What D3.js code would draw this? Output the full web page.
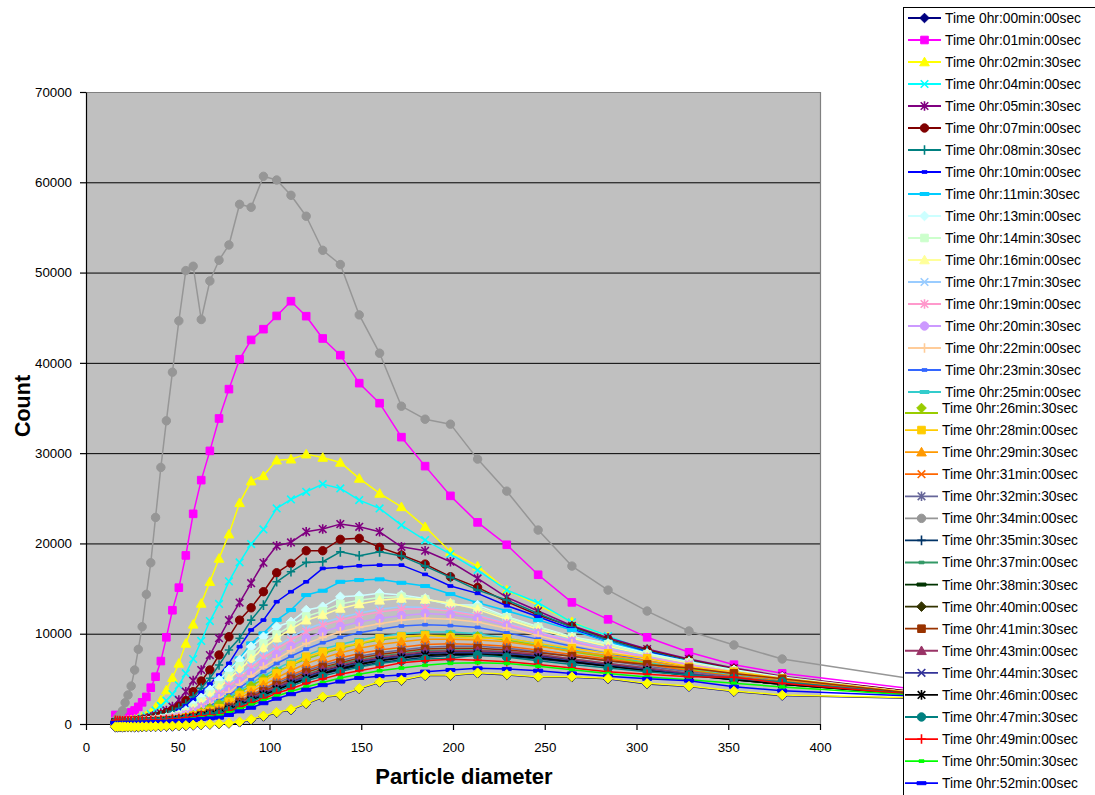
<!DOCTYPE html>
<html>
<head>
<meta charset="utf-8">
<script src="https://cdn.jsdelivr.net/npm/d3@7"></script>
<style>
  body { margin: 0; background: #fff; }
  text { font-family: "Liberation Sans", Arial, sans-serif; }
</style>
</head>
<body>
<svg id="chart" width="1095" height="795"></svg>
<script>
// particle diameters (last one sits past the axis end, behind the legend)
const diameters = [16.0, 17.2, 18.5, 19.9, 21.3, 22.9, 24.6, 26.5, 28.5, 30.6, 32.9, 35.3, 37.9, 40.8, 43.8, 47.1, 50.6, 54.4, 58.4, 62.8, 67.5, 72.5, 77.9, 83.7, 90.0, 96.7, 103.9, 111.7, 120.0, 129.0, 138.6, 148.9, 160.0, 171.9, 184.8, 198.6, 213.4, 229.3, 246.4, 264.8, 284.5, 305.8, 328.6, 353.1, 379.4, 450]

// legend labels (the legend is cut by the picture after 52min)
const times = ["00min:00sec", "01min:00sec", "02min:30sec", "04min:00sec", "05min:30sec", "07min:00sec", "08min:30sec", "10min:00sec", "11min:30sec", "13min:00sec", "14min:30sec", "16min:00sec", "17min:30sec", "19min:00sec", "20min:30sec", "22min:00sec", "23min:30sec", "25min:00sec", "26min:30sec", "28min:00sec", "29min:30sec", "31min:00sec", "32min:30sec", "34min:00sec", "35min:30sec", "37min:00sec", "38min:30sec", "40min:00sec", "41min:30sec", "43min:00sec", "44min:30sec", "46min:00sec", "47min:30sec", "49min:00sec", "50min:30sec", "52min:00sec"]

const t0000 = [-360, -360, -360, -360, -360, -360, -360, -360, -360, -350, -340, -330, -320, -310, -290, -270, -240, -210, -160, -110, -60, -10, 60, 190, 460, 840, 1240, 1570, 2230, 2960, 3150, 3890, 4620, 4810, 5360, 5360, 5620, 5440, 5180, 5180, 5000, 4440, 4140, 3590, 3150, 2840]
const t0100 = [1000, 950, 950, 1000, 1050, 1150, 1300, 1500, 1900, 2400, 3000, 4020, 5240, 6970, 9600, 12600, 15100, 18670, 23280, 27010, 30250, 33840, 37090, 40400, 42540, 43730, 45200, 46830, 45170, 42700, 40850, 37750, 35530, 31770, 28560, 25270, 22330, 19850, 16530, 13470, 11590, 9600, 7940, 6570, 5610, 3900]
const t0230 = [300, 300, 320, 340, 370, 400, 450, 520, 620, 760, 950, 1250, 1850, 2660, 3760, 5130, 6720, 8930, 11040, 13360, 15760, 18340, 21030, 24500, 26900, 27490, 29220, 29330, 29890, 29520, 28970, 27200, 25540, 24050, 21840, 19070, 17490, 14830, 13170, 11320, 9660, 7830, 6800, 5800, 4900, 3400]
const t0400 = [250, 250, 260, 280, 300, 330, 370, 430, 520, 650, 850, 1100, 1500, 2000, 2600, 3300, 4300, 5600, 7200, 9200, 11400, 13300, 15800, 17900, 19930, 21550, 23880, 24870, 25720, 26570, 26090, 24800, 23880, 22030, 20370, 18820, 17050, 14830, 13430, 11260, 9740, 8110, 7000, 6000, 5200, 3500]
const t0530 = [250, 250, 260, 270, 290, 310, 340, 380, 440, 520, 620, 760, 950, 1200, 1500, 1920, 2660, 3580, 4800, 5980, 7640, 9500, 11500, 13450, 15600, 17860, 19740, 20110, 21290, 21590, 22140, 21840, 21290, 19630, 19190, 17970, 16130, 14030, 12510, 10880, 9550, 8300, 7200, 6200, 5300, 3600]
const t0700 = [250, 250, 260, 270, 280, 300, 320, 350, 400, 460, 540, 650, 800, 1000, 1250, 1550, 1950, 2600, 3580, 4760, 5980, 7640, 9660, 11510, 12870, 14650, 16750, 17790, 19190, 19190, 20450, 20560, 19560, 18710, 17710, 16310, 15130, 13540, 12070, 10800, 9400, 8200, 7100, 6100, 5200, 3600]
const t0830 = [250, 250, 260, 270, 280, 290, 310, 340, 380, 430, 500, 600, 730, 900, 1100, 1400, 1750, 2200, 3000, 3950, 5060, 6530, 8190, 9490, 11510, 13170, 15750, 16860, 17900, 17970, 19070, 18630, 19070, 18600, 17490, 16240, 14830, 13730, 12250, 10700, 9300, 8100, 7000, 6000, 5100, 3500]
const t1000 = [250, 250, 255, 260, 270, 280, 300, 320, 350, 390, 440, 510, 600, 720, 880, 1080, 1500, 2000, 2700, 3500, 4430, 5420, 6720, 8560, 10410, 11510, 13540, 14650, 15750, 17230, 17350, 17520, 17600, 17600, 16570, 15280, 14470, 13100, 11880, 10520, 9110, 8000, 6900, 5900, 5000, 3500]
const t1130 = [250, 250, 255, 260, 265, 275, 290, 310, 340, 370, 410, 460, 530, 620, 740, 890, 1100, 1400, 1800, 2700, 3800, 4950, 5980, 7270, 8930, 10040, 11510, 12620, 14280, 14760, 15750, 15940, 16020, 15640, 15280, 14390, 13430, 12540, 11510, 10400, 9100, 7900, 6900, 5900, 5000, 3500]
const t1300 = [250, 250, 250, 255, 260, 270, 280, 300, 320, 350, 390, 440, 510, 600, 720, 870, 1060, 1500, 2100, 2900, 3800, 4870, 5980, 7090, 8560, 9660, 10770, 11320, 12620, 12990, 14090, 14200, 14470, 14280, 13910, 13170, 13170, 11880, 10770, 9660, 8930, 7830, 6900, 6000, 5200, 3500]
const t1430 = [240, 240, 245, 250, 255, 260, 270, 285, 300, 330, 360, 400, 460, 540, 640, 770, 940, 1300, 1800, 2500, 3300, 4300, 5300, 6400, 7700, 8900, 9900, 10900, 11900, 12500, 13300, 13700, 14000, 14100, 13800, 13300, 12900, 11800, 10700, 9600, 8800, 7700, 6800, 5900, 5100, 3500]
const t1600 = [240, 240, 245, 250, 255, 260, 270, 280, 295, 320, 350, 390, 450, 520, 620, 740, 900, 1200, 1650, 2300, 3100, 4000, 5000, 6000, 7200, 8400, 9500, 10500, 11500, 12070, 12800, 13300, 13700, 13900, 13800, 13400, 12700, 11600, 10500, 9500, 8600, 7600, 6700, 5800, 5000, 3500]
const t1730 = [230, 230, 235, 240, 245, 250, 260, 270, 285, 310, 340, 380, 430, 500, 590, 700, 850, 1100, 1500, 2000, 2700, 3500, 4400, 5400, 6500, 7600, 8600, 9600, 10500, 11200, 11800, 12300, 12700, 13000, 12900, 12600, 12100, 11200, 10200, 9300, 8400, 7500, 6600, 5800, 5000, 3500]
const t1900 = [230, 230, 235, 240, 245, 250, 255, 265, 280, 300, 330, 370, 420, 480, 560, 670, 810, 1050, 1400, 1900, 2500, 3300, 4200, 5100, 6200, 7300, 8300, 9300, 10200, 10900, 11500, 12000, 12400, 12700, 12800, 12500, 12000, 11100, 10100, 9200, 8300, 7400, 6600, 5800, 5000, 3500]
const t2030 = [220, 220, 225, 230, 235, 240, 250, 260, 275, 295, 320, 355, 400, 460, 540, 640, 770, 1000, 1300, 1750, 2300, 3000, 3800, 4700, 5700, 6700, 7700, 8600, 9500, 10200, 10800, 11300, 11700, 12000, 12250, 12100, 11700, 10900, 10000, 9100, 8200, 7300, 6500, 5700, 4900, 3400]
const t2200 = [220, 220, 225, 230, 235, 240, 245, 255, 270, 290, 310, 340, 380, 430, 500, 590, 710, 920, 1200, 1600, 2150, 2800, 3500, 4400, 5300, 6300, 7200, 8100, 8900, 9600, 10200, 10700, 11100, 11500, 11700, 11600, 11300, 10600, 9800, 8900, 8100, 7200, 6400, 5600, 4900, 3400]
const t2330 = [210, 210, 215, 220, 225, 230, 235, 245, 255, 270, 290, 320, 355, 400, 460, 540, 650, 840, 1100, 1450, 2000, 2600, 3200, 4000, 4900, 5800, 6700, 7500, 8300, 9000, 9600, 10100, 10500, 10850, 11000, 10900, 10700, 10100, 9400, 8600, 7800, 7000, 6200, 5500, 4800, 3400]
const t2500 = [210, 210, 210, 215, 220, 225, 230, 240, 250, 265, 280, 305, 340, 380, 440, 510, 610, 790, 1020, 1350, 1850, 2400, 3000, 3700, 4500, 5300, 6100, 6900, 7600, 8300, 8800, 9300, 9700, 10000, 10200, 10200, 10000, 9500, 8900, 8200, 7500, 6800, 6100, 5400, 4700, 3400]
const t2630 = [200, 200, 205, 210, 215, 220, 225, 235, 245, 260, 275, 300, 330, 370, 420, 490, 580, 750, 970, 1300, 1750, 2200, 2800, 3500, 4200, 5000, 5800, 6500, 7200, 7800, 8400, 8900, 9300, 9600, 9800, 9800, 9700, 9300, 8700, 8000, 7400, 6700, 6000, 5300, 4700, 3400]
const t2800 = [200, 200, 205, 210, 215, 220, 225, 230, 240, 255, 270, 290, 320, 360, 410, 480, 570, 720, 920, 1200, 1450, 1740, 2470, 3210, 3760, 4680, 5610, 6530, 7450, 8000, 8560, 8900, 9490, 9700, 9850, 9600, 9490, 9490, 8930, 8380, 7830, 7270, 6340, 5790, 5060, 3500]
const t2930 = [190, 190, 195, 200, 205, 210, 215, 220, 230, 245, 260, 280, 305, 340, 390, 450, 530, 670, 850, 1100, 1350, 1600, 2200, 2900, 3500, 4300, 5100, 5900, 6700, 7300, 7900, 8400, 8800, 9100, 9400, 9400, 9300, 9100, 8600, 8100, 7600, 7000, 6200, 5600, 4900, 3400]
const t3100 = [190, 190, 190, 195, 200, 205, 210, 215, 225, 235, 250, 270, 295, 330, 375, 430, 510, 640, 810, 1030, 1250, 1500, 2000, 2600, 3200, 3900, 4700, 5400, 6100, 6700, 7300, 7800, 8200, 8500, 8800, 8900, 8800, 8600, 8200, 7700, 7200, 6600, 5900, 5300, 4700, 3400]
const t3230 = [180, 180, 185, 190, 195, 200, 205, 210, 220, 230, 245, 265, 290, 320, 360, 415, 490, 610, 770, 980, 1200, 1400, 1900, 2500, 3100, 3800, 4500, 5200, 5900, 6500, 7000, 7500, 7900, 8200, 8500, 8600, 8600, 8400, 8000, 7500, 7000, 6400, 5800, 5200, 4600, 3400]
const t3400 = [400, 700, 1000, 1470, 2360, 3210, 4200, 5980, 8270, 10770, 14360, 17860, 22880, 28420, 33580, 38970, 44650, 50220, 50700, 44800, 49070, 51370, 53060, 57560, 57230, 60660, 60250, 58560, 56240, 52470, 50890, 45310, 41070, 35200, 33760, 33210, 29340, 25790, 21480, 17490, 14830, 12510, 10300, 8750, 7200, 5000]
const t3530 = [170, 170, 175, 180, 185, 190, 195, 200, 210, 220, 230, 250, 270, 300, 340, 390, 460, 560, 700, 880, 1050, 1200, 1600, 2100, 2600, 3200, 3800, 4400, 5000, 5500, 6000, 6400, 6800, 7100, 7400, 7600, 7600, 7500, 7200, 6800, 6400, 5900, 5400, 4900, 4400, 3300]
const t3700 = [180, 180, 185, 190, 195, 200, 205, 210, 220, 230, 240, 260, 285, 315, 355, 410, 480, 590, 740, 940, 1130, 1300, 1800, 2300, 2900, 3500, 4200, 4900, 5500, 6100, 6700, 7100, 7500, 7800, 8100, 8200, 8200, 8000, 7700, 7200, 6700, 6200, 5600, 5000, 4500, 3300]
const t3830 = [170, 170, 175, 180, 185, 190, 195, 200, 210, 220, 230, 250, 275, 300, 340, 390, 460, 570, 710, 900, 1080, 1200, 1700, 2200, 2700, 3300, 3900, 4500, 5100, 5700, 6200, 6700, 7100, 7400, 7700, 7800, 7800, 7700, 7400, 7000, 6500, 6000, 5500, 4900, 4400, 3300]
const t4000 = [175, 175, 180, 185, 190, 195, 200, 205, 215, 225, 235, 255, 280, 305, 345, 400, 470, 580, 720, 910, 1100, 1250, 1750, 2250, 2800, 3400, 4000, 4700, 5300, 5900, 6400, 6900, 7300, 7600, 7900, 8000, 8000, 7900, 7600, 7100, 6600, 6100, 5500, 5000, 4500, 3300]
const t4130 = [180, 180, 185, 190, 195, 200, 205, 210, 220, 230, 245, 265, 290, 320, 360, 420, 490, 600, 760, 960, 1150, 1300, 1800, 2400, 3000, 3600, 4300, 5000, 5700, 6300, 6800, 7300, 7700, 8000, 8300, 8400, 8380, 8200, 7900, 7500, 7000, 6600, 6200, 5600, 5000, 3400]
const t4300 = [175, 175, 180, 185, 190, 195, 200, 205, 215, 225, 235, 255, 280, 305, 345, 400, 470, 580, 720, 910, 1100, 1250, 1750, 2300, 2900, 3500, 4100, 4800, 5400, 6000, 6500, 7000, 7400, 7700, 8000, 8100, 8100, 8000, 7700, 7200, 6700, 6200, 5600, 5100, 4600, 3300]
const t4430 = [170, 170, 175, 180, 185, 190, 195, 200, 210, 220, 230, 250, 275, 300, 340, 390, 460, 570, 700, 890, 1070, 1200, 1700, 2200, 2700, 3300, 3900, 4600, 5200, 5800, 6300, 6800, 7200, 7500, 7800, 7900, 7900, 7800, 7500, 7000, 6500, 6000, 5500, 5000, 4500, 3300]
const t4600 = [165, 165, 170, 175, 180, 185, 190, 195, 205, 215, 225, 245, 265, 295, 330, 380, 450, 550, 680, 860, 1030, 1150, 1600, 2100, 2600, 3200, 3800, 4400, 5000, 5600, 6100, 6600, 7000, 7300, 7600, 7700, 7700, 7600, 7300, 6900, 6400, 5900, 5400, 4900, 4400, 3300]
const t4730 = [160, 160, 165, 170, 175, 180, 185, 190, 200, 210, 220, 235, 255, 285, 320, 370, 430, 530, 650, 820, 980, 1100, 1500, 2000, 2500, 3000, 3600, 4200, 4800, 5300, 5800, 6300, 6700, 7000, 7200, 7270, 7640, 7400, 7000, 6600, 6200, 5800, 5420, 5060, 4680, 3300]
const t4900 = [400, 380, 370, 360, 350, 350, 350, 355, 360, 370, 385, 400, 420, 450, 490, 540, 610, 700, 800, 900, 950, 1000, 1400, 1850, 2300, 2800, 3400, 3900, 4500, 5000, 5500, 5900, 6300, 6790, 7000, 7160, 7050, 6900, 6600, 6200, 5800, 5500, 5240, 5170, 4500, 3300]
const t5030 = [150, 150, 150, 155, 160, 165, 170, 175, 180, 190, 200, 215, 235, 260, 290, 330, 390, 470, 570, 700, 800, 900, 1250, 1650, 2100, 2600, 3100, 3600, 4100, 4600, 5100, 5500, 5900, 6200, 6500, 6720, 6790, 6700, 6400, 6000, 5600, 5200, 4900, 4500, 4100, 3200]
const t5200 = [120, 120, 120, 125, 130, 135, 140, 145, 150, 160, 170, 185, 200, 225, 255, 290, 340, 400, 480, 560, 620, 700, 1000, 1400, 1800, 2300, 2800, 3300, 3800, 4300, 4700, 5100, 5300, 5420, 5800, 5980, 6170, 6100, 5900, 5600, 5300, 5000, 4800, 4130, 3690, 3100]
const t5330 = [-300, -300, -300, -300, -300, -300, -300, -300, -300, -290, -280, -270, -260, -250, -230, -210, -180, -150, -100, -50, 0, 50, 120, 250, 520, 900, 1300, 1630, 2290, 3020, 3210, 3950, 4680, 4870, 5420, 5420, 5680, 5500, 5240, 5240, 5060, 4500, 4200, 3650, 3210, 2900]

const seriesValues = [t0000, t0100, t0230, t0400, t0530, t0700, t0830, t1000, t1130, t1300, t1430, t1600, t1730, t1900, t2030, t2200, t2330, t2500, t2630, t2800, t2930, t3100, t3230, t3400, t3530, t3700, t3830, t4000, t4130, t4300, t4430, t4600, t4730, t4900, t5030, t5200, t5330]

const xTicks = [0, 50, 100, 150, 200, 250, 300, 350, 400]
const yTicks = [0, 10000, 20000, 30000, 40000, 50000, 60000, 70000]

// excel 2003 default series colours / marker cycle
const colors = ["#000080", "#FF00FF", "#FFFF00", "#00FFFF", "#800080", "#800000", "#008080", "#0000FF", "#00CCFF", "#CCFFFF", "#CCFFCC", "#FFFF99", "#99CCFF", "#FF99CC", "#CC99FF", "#FFCC99", "#3366FF", "#33CCCC", "#99CC00", "#FFCC00", "#FF9900", "#FF6600", "#666699", "#969696", "#003366", "#339966", "#003300", "#333300", "#993300", "#993366", "#333399", "#000000", "#008080", "#FF0000", "#00FF00", "#0000FF", "#FFFF00"]
const markerCycle = ["diamond", "square", "triangle", "x", "star", "circle", "plus", "shortdash", "longdash"]

const markerPaths = {
    diamond: "M0,-4.8L4.8,0L0,4.8L-4.8,0Z",
    square: "M-3.8,-3.8H3.8V3.8H-3.8Z",
    triangle: "M0,-4.8L4.8,3.8H-4.8Z",
    x: "M-3.8,-3.8L3.8,3.8M3.8,-3.8L-3.8,3.8",
    star: "M-3.8,-3.8L3.8,3.8M3.8,-3.8L-3.8,3.8M0,-4.8V4.8",
    circle: "M-4.2,0A4.2,4.2 0 1,0 4.2,0A4.2,4.2 0 1,0 -4.2,0Z",
    plus: "M-4.2,0H4.2M0,-4.8V4.8",
    shortdash: "M-2.5,-1.3H2.5V1.3H-2.5Z",
    longdash: "M-4.5,-1.5H4.5V1.5H-4.5Z"
}
const stroked = { x: true, star: true, plus: true }

var margin = { left: 86, right: 820, top: 92, bottom: 724 }
var svg = d3.select("#chart")
var xScale = d3.scaleLinear().domain([0, 400]).range([margin.left, margin.right])
var yScale = d3.scaleLinear().domain([0, 70000]).range([margin.bottom, margin.top])

// plot area
svg.append("rect").attr("x", margin.left).attr("y", margin.top)
    .attr("width", margin.right - margin.left).attr("height", margin.bottom - margin.top)
    .attr("fill", "#C0C0C0")
svg.selectAll(".grid").data(yTicks.filter(v => v > 0 && v < 70000)).join("line").attr("class", "grid")
    .attr("x1", margin.left).attr("x2", margin.right)
    .attr("y1", d => yScale(d) + 0.5).attr("y2", d => yScale(d) + 0.5)
    .attr("stroke", "#000").attr("stroke-width", 1)
svg.append("path").attr("d", `M${margin.left},${margin.top + 0.5}H${margin.right + 0.5}V${margin.bottom}`)
    .attr("fill", "none").attr("stroke", "#808080").attr("stroke-width", 1.2)

// axes
var yAxis = svg.append("g").attr("transform", `translate(${margin.left},0)`)
    .call(d3.axisLeft(yScale).tickValues(yTicks).tickSize(6).tickSizeOuter(0).tickPadding(8).tickFormat(d3.format("d")))
var xAxis = svg.append("g").attr("transform", `translate(0,${margin.bottom})`)
    .call(d3.axisBottom(xScale).tickValues(xTicks).tickSize(6).tickSizeOuter(0).tickPadding(13))
    ;[yAxis, xAxis].forEach(ax => {
        ax.selectAll("text").attr("font-size", "13.3px").attr("fill", "#000").style("font-family", '"Liberation Sans", Arial, sans-serif')
        ax.selectAll("line,path").attr("stroke", "#000").attr("stroke-width", 1.2)
    })

svg.append("text").attr("x", 464).attr("y", 784).attr("text-anchor", "middle")
    .attr("font-size", "22px").attr("font-weight", "bold").text("Particle diameter")
svg.append("text").attr("transform", "translate(30,406) rotate(-90)").attr("text-anchor", "middle")
    .attr("font-size", "21.5px").attr("font-weight", "bold").text("Count")

// series
var line = d3.line().x(d => xScale(d[0])).y(d => yScale(d[1]))
seriesValues.forEach((vals, k) => {
    var pts = diameters.map((dm, i) => [dm, vals[i]])
    var mk = markerCycle[k % 9]
    var g = svg.append("g").attr("class", "series s" + k)
    g.append("path").attr("d", line(pts)).attr("fill", "none")
        .attr("stroke", colors[k]).attr("stroke-width", 1.5).attr("stroke-linejoin", "round")
    g.selectAll("path.m").data(pts.filter(p => p[0] <= 400)).join("path").attr("class", "m")
        .attr("transform", p => `translate(${xScale(p[0])},${yScale(p[1])})`)
        .attr("d", markerPaths[mk])
        .attr("fill", stroked[mk] ? "none" : colors[k])
        .attr("stroke", colors[k]).attr("stroke-width", stroked[mk] ? 1.6 : 1)
})

// legend (runs past the bottom of the picture)
var legend = svg.append("g")
legend.append("rect").attr("x", 903.5).attr("y", 7.5).attr("width", 220).attr("height", 820)
    .attr("fill", "#fff").attr("stroke", "#000").attr("stroke-width", 1)
times.forEach((t, k) => {
    var ty = k < 18 ? 18 + k * 22 : 408 + (k - 18) * 22.07
    var sh = k < 18 ? 0 : -3
    var ly = k == 18 ? ty + 5 : ty
    var mk = markerCycle[k % 9]
    legend.append("line").attr("x1", 908 + sh).attr("x2", 941 + sh).attr("y1", ly).attr("y2", ly)
        .attr("stroke", colors[k]).attr("stroke-width", 1.8)
    legend.append("path").attr("transform", `translate(${924.5 + sh},${ty})`).attr("d", markerPaths[mk])
        .attr("fill", stroked[mk] ? "none" : colors[k])
        .attr("stroke", colors[k]).attr("stroke-width", stroked[mk] ? 1.6 : 1)
    legend.append("text").attr("x", 945 + sh).attr("y", ty).attr("dy", "0.36em")
        .attr("font-size", "13.8px").attr("fill", "#000").text("Time 0hr:" + t)
})
</script>
</body>
</html>
